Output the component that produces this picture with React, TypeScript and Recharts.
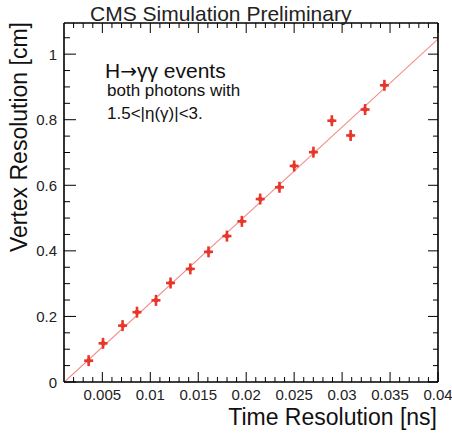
import React from 'react';
import { ComposedChart, XAxis, YAxis, Scatter, Line } from 'recharts';

// Data
const timeResolution = [0.00357, 0.00507, 0.00711, 0.00861, 0.01059, 0.01211, 0.01417, 0.01607, 0.01799, 0.01955, 0.02146, 0.02347, 0.025, 0.02701, 0.02893, 0.03089, 0.0324, 0.03441];
const vertexResolution = [0.065, 0.118, 0.172, 0.213, 0.249, 0.302, 0.345, 0.397, 0.445, 0.49, 0.558, 0.594, 0.659, 0.701, 0.797, 0.752, 0.831, 0.905];
const fitX = [0.001, 0.04];
const fitY = [-0.001, 1.046];

const xMajorTicks = [0.005, 0.01, 0.015, 0.02, 0.025, 0.03, 0.035, 0.04];
const xTickLabels = ['0.005', '0.01', '0.015', '0.02', '0.025', '0.03', '0.035', '0.04'];
const yMajorTicks = [0, 0.2, 0.4, 0.6, 0.8, 1];
const yTickLabels = ['0', '0.2', '0.4', '0.6', '0.8', '1'];

const xDomain: [number, number] = [0.001, 0.04];
const yDomain: [number, number] = [0, 1.095];

const xAllTicks: number[] = [];
for (let i = 2; i <= 40; i++) xAllTicks.push(i / 1000);
const yAllTicks: number[] = [];
for (let i = 0; i <= 21; i++) yAllTicks.push(i / 20);

const points = timeResolution.map((x, i) => ({ x, y: vertexResolution[i] }));
const fitLine = fitX.map((x, i) => ({ x, y: fitY[i] }));

const FONT = '"Liberation Sans", Arial, Helvetica, sans-serif';
const RED = '#e8362b';
const FIT = '#f08a85';
const LABEL = '#222';

const majorIndex = (v: number, majors: number[]) => majors.findIndex((m) => Math.abs(m - v) < 1e-9);

const BottomTick = (props: any) => {
  const { x, y, payload } = props;
  const idx = majorIndex(payload.value, xMajorTicks);
  const len = idx >= 0 ? 10 : 5;
  return (
    <g>
      <line x1={x} x2={x} y1={y} y2={y - len} stroke="#000" strokeWidth={1} />
      {idx >= 0 && (
        <text x={x} y={y + 17.5} textAnchor="middle" fontSize={15} fill={LABEL} fontFamily={FONT}>
          {xTickLabels[idx]}
        </text>
      )}
    </g>
  );
};

const TopTick = (props: any) => {
  const { x, y, payload } = props;
  const idx = majorIndex(payload.value, xMajorTicks);
  const len = idx >= 0 ? 10 : 5;
  return <line x1={x} x2={x} y1={y} y2={y + len} stroke="#000" strokeWidth={1} />;
};

const LeftTick = (props: any) => {
  const { x, y, payload } = props;
  const idx = majorIndex(payload.value, yMajorTicks);
  const len = idx >= 0 ? 12 : 6;
  return (
    <g>
      <line x1={x} x2={x + len} y1={y} y2={y} stroke="#000" strokeWidth={1} />
      {idx >= 0 && (
        <text x={x - 7} y={y + 5.5} textAnchor="end" fontSize={15} fill={LABEL} fontFamily={FONT}>
          {yTickLabels[idx]}
        </text>
      )}
    </g>
  );
};

const RightTick = (props: any) => {
  const { x, y, payload } = props;
  const idx = majorIndex(payload.value, yMajorTicks);
  const len = idx >= 0 ? 10 : 5;
  return <line x1={x} x2={x - len} y1={y} y2={y} stroke="#000" strokeWidth={1} />;
};

const Marker = (props: any) => {
  const { cx, cy } = props;
  if (cx == null || cy == null) return <g />;
  return (
    <g>
      <line x1={cx - 4.5} x2={cx + 4.5} y1={cy} y2={cy} stroke={RED} strokeWidth={2.6} />
      <line x1={cx} x2={cx} y1={cy - 5.5} y2={cy + 5.5} stroke={RED} strokeWidth={2.6} />
      <circle cx={cx} cy={cy} r={2.4} fill={RED} />
    </g>
  );
};

const axisLine = { stroke: '#000', strokeWidth: 1.6 };

export default function App() {
  return (
    <div style={{ position: 'absolute', left: 0, top: 0, width: 452, height: 435, background: '#fff' }}>
      <ComposedChart width={452} height={435} margin={{ top: 0, right: 0, bottom: 0, left: 0 }}>
        <XAxis
          xAxisId="b"
          dataKey="x"
          type="number"
          orientation="bottom"
          domain={xDomain}
          allowDataOverflow
          ticks={xAllTicks}
          interval={0}
          height={53}
          tickSize={0}
          tickMargin={0}
          tickLine={false}
          axisLine={axisLine}
          tick={<BottomTick />}
        />
        <XAxis
          xAxisId="t"
          dataKey="x"
          type="number"
          orientation="top"
          domain={xDomain}
          allowDataOverflow
          ticks={xAllTicks}
          interval={0}
          height={23}
          tickSize={0}
          tickMargin={0}
          tickLine={false}
          axisLine={axisLine}
          tick={<TopTick />}
        />
        <YAxis
          yAxisId="l"
          dataKey="y"
          type="number"
          orientation="left"
          domain={yDomain}
          allowDataOverflow
          ticks={yAllTicks}
          interval={0}
          width={64}
          tickSize={0}
          tickMargin={0}
          tickLine={false}
          axisLine={axisLine}
          tick={<LeftTick />}
        />
        <YAxis
          yAxisId="r"
          dataKey="y"
          type="number"
          orientation="right"
          domain={yDomain}
          allowDataOverflow
          ticks={yAllTicks}
          interval={0}
          width={14}
          tickSize={0}
          tickMargin={0}
          tickLine={false}
          axisLine={axisLine}
          tick={<RightTick />}
        />
        <Line
          data={fitLine}
          dataKey="y"
          xAxisId="t"
          yAxisId="r"
          type="linear"
          stroke={FIT}
          strokeWidth={1.1}
          dot={false}
          activeDot={false}
          isAnimationActive={false}
        />
        <Scatter
          data={points}
          dataKey="y"
          xAxisId="b"
          yAxisId="l"
          shape={<Marker />}
          isAnimationActive={false}
        />
      </ComposedChart>
      <svg
        width={452}
        height={435}
        style={{ position: 'absolute', left: 0, top: 0, pointerEvents: 'none' }}
      >
        <text x={90} y={21} fontSize={21} fill="#222" fontFamily={FONT}>
          CMS Simulation Preliminary
        </text>
        <text x={105} y={78} fontSize={21} fill="#111" fontFamily={FONT}>
          H<tspan fontFamily='"DejaVu Sans", sans-serif' fontSize={20}>→</tspan>γγ events
        </text>
        <text x={107} y={96} fontSize={17} fill="#111" fontFamily={FONT}>
          both photons with
        </text>
        <text x={107} y={119} fontSize={17} fill="#111" fontFamily={FONT}>
          1.5&lt;|η(γ)|&lt;3.
        </text>
        <text x={437} y={425} textAnchor="end" fontSize={23} fill="#111" fontFamily={FONT}>
          Time Resolution [ns]
        </text>
        <text x={-22} y={27} transform="rotate(-90)" textAnchor="end" fontSize={23} fill="#111" fontFamily={FONT}>
          Vertex Resolution [cm]
        </text>
      </svg>
    </div>
  );
}
